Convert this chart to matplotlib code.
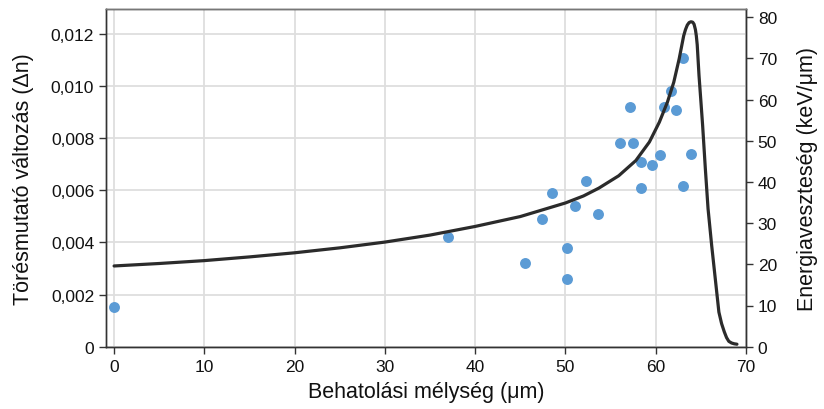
import matplotlib
matplotlib.use("Agg")
import matplotlib.pyplot as plt
from matplotlib.ticker import FuncFormatter, MultipleLocator

plt.rcParams['font.family'] = ['Liberation Sans', 'DejaVu Sans']

# Refractive index change measurements (left axis)
depth_pts = [0.0, 37.0, 45.5, 47.4, 48.5, 50.2, 50.2, 51.1, 52.3, 53.6, 56.1, 57.2,
             57.5, 58.4, 58.4, 59.6, 60.5, 60.9, 61.7, 62.2, 63.0, 63.0, 63.9]
delta_n = [0.00154, 0.00421, 0.0032, 0.00491, 0.00591, 0.00379, 0.0026, 0.0054,
           0.00637, 0.00509, 0.0078, 0.00919, 0.0078, 0.0071, 0.0061, 0.00698,
           0.00736, 0.00919, 0.00981, 0.00908, 0.01108, 0.00615, 0.00738]

# Energy loss profile (right axis)
depth_curve = [0.0, 2.5, 5.0, 10.0, 15.0, 20.0, 25.0, 30.0, 35.0, 40.0, 45.0, 50.0,
               52.0, 53.7, 55.9, 57.8, 59.3, 60.4, 61.3, 62.0, 62.6, 63.1, 63.3,
               63.5, 63.7, 63.9, 64.1, 64.25, 64.4, 64.5, 64.6, 64.8, 65.0, 65.2,
               65.5, 65.8, 66.2, 66.6, 67.0, 67.3, 67.6, 67.85, 68.1, 68.4, 68.7,
               69.0]
energy_loss = [19.6, 19.9, 20.2, 20.9, 21.8, 22.8, 24.0, 25.4, 27.1, 29.2, 31.6, 34.9,
               36.6, 38.5, 41.5, 45.2, 49.7, 54.5, 59.4, 64.2, 69.9, 75.5, 77.0,
               78.1, 78.7, 78.9, 78.8, 78.3, 77.0, 75.5, 73.3, 65.8, 59.8, 53.7,
               43.2, 33.5, 24.6, 16.5, 8.4, 5.6, 3.6, 2.2, 1.3, 0.9, 0.7,
               0.6]

x_ticks = [0, 10, 20, 30, 40, 50, 60, 70]

fig = plt.figure(figsize=(8.24, 4.10), dpi=100)
ax = fig.add_axes([0.1286, 0.152, 0.7767, 0.8236])
ax2 = ax.twinx()

spine_col = '#333333'
grid_col = '#dedede'

ax.set_xlim(-0.9, 70.0)
ax.set_ylim(0, 0.01296)
ax2.set_ylim(0, 82)

ax.set_xticks(x_ticks)
ax.yaxis.set_major_locator(MultipleLocator(0.002))
ax2.yaxis.set_major_locator(MultipleLocator(10))

def comma_fmt(v, pos):
    if abs(v) < 1e-12:
        return '0'
    return f'{v:.3f}'.replace('.', ',')

ax.yaxis.set_major_formatter(FuncFormatter(comma_fmt))

ax.grid(True, color=grid_col, linewidth=1.3)
ax.set_axisbelow(True)

ax.scatter(depth_pts, delta_n, s=62, color='#5b9bd5', zorder=3, linewidths=0)
ax2.plot(depth_curve, energy_loss, color='#2b2b2b', linewidth=2.3, zorder=4,
         solid_joinstyle='round', solid_capstyle='round')

for a in (ax, ax2):
    for side in ('left', 'right', 'bottom', 'top'):
        a.spines[side].set_color(spine_col)
        a.spines[side].set_linewidth(1.0)
    a.tick_params(axis='both', direction='out', length=5, width=1.0,
                  color=spine_col, labelsize=12.5, labelcolor='#111111')
ax2.spines['top'].set_color('#777777')

ax.tick_params(axis='x', pad=4)
ax.set_xlabel('Behatolási mélység (μm)', fontsize=15.5, color='#111111', labelpad=5)
ax.set_ylabel('Törésmutató változás (Δn)', fontsize=15.5, color='#111111', labelpad=12)
ax2.set_ylabel('Energiaveszteség (keV/μm)', fontsize=15.5, color='#111111', labelpad=14)

fig.savefig('out.png', dpi=100)
